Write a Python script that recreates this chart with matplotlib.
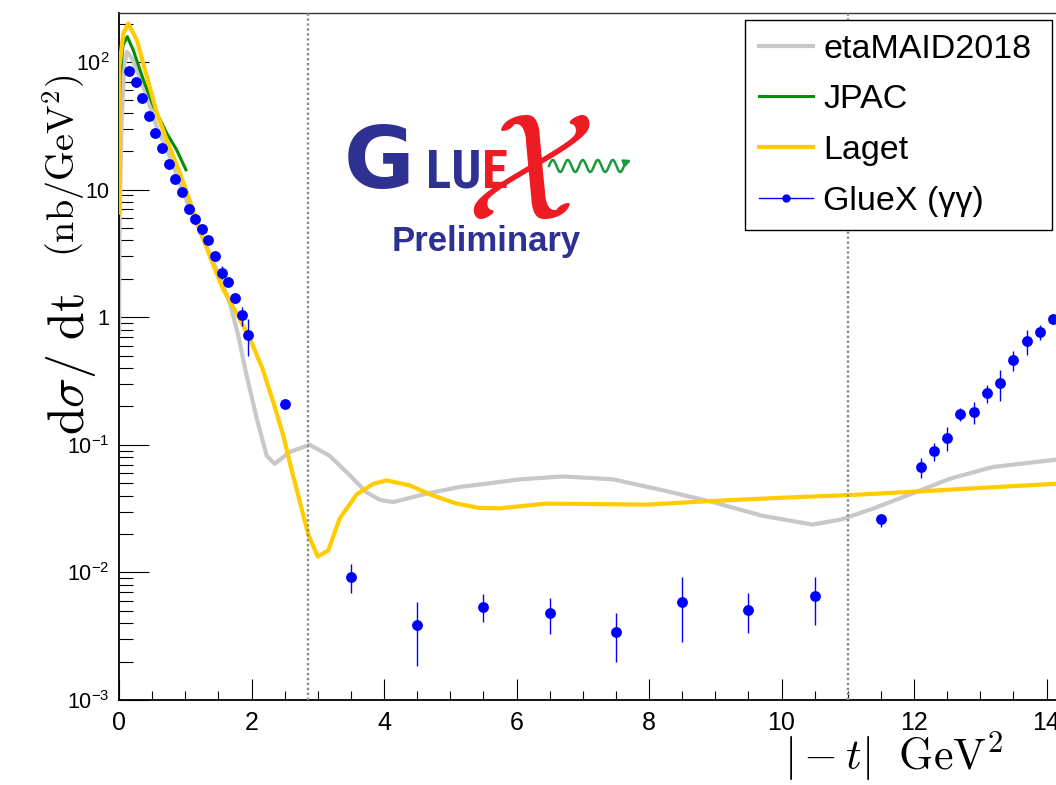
import numpy as np
import matplotlib
matplotlib.use("Agg")
import matplotlib.pyplot as plt
from matplotlib import font_manager
from matplotlib.lines import Line2D
from matplotlib.ticker import FixedLocator, LogLocator, MultipleLocator, NullFormatter

# GlueX eta -> gamma gamma differential cross section
t_data = [0.15, 0.25, 0.35, 0.45, 0.55, 0.65, 0.75, 0.85, 0.95, 1.05,
          1.15, 1.25, 1.35, 1.45, 1.55, 1.65, 1.75, 1.85, 1.95, 2.5,
          3.5, 4.5, 5.5, 6.5, 7.5, 8.5, 9.5, 10.5, 11.5,
          12.1, 12.3, 12.5, 12.7, 12.9, 13.1, 13.3, 13.5, 13.7, 13.9, 14.1]
xsec_data = [85, 70, 52.6, 37.9, 27.7, 21.2, 16.0, 12.0, 9.6, 7.1,
             5.9, 4.87, 4.0, 3.0, 2.23, 1.89, 1.42, 1.04, 0.73, 0.21,
             0.0092, 0.0039, 0.0054, 0.0048, 0.0034, 0.0059, 0.0051, 0.0065, 0.0264,
             0.0665, 0.090, 0.114, 0.174, 0.180, 0.256, 0.305, 0.458, 0.653, 0.768, 0.964]
xsec_low = [83, 68, 51, 36.8, 26.9, 20.5, 15.4, 11.5, 9.2, 6.8,
            5.6, 4.6, 3.75, 2.8, 2.0, 1.78, 1.30, 0.855, 0.50, 0.20,
            0.0069, 0.00186, 0.0041, 0.0033, 0.00198, 0.00284, 0.00336, 0.0039, 0.0228,
            0.055, 0.0753, 0.0897, 0.153, 0.145, 0.214, 0.222, 0.378, 0.502, 0.658, 0.90]
xsec_high = [87, 72, 54, 39, 28.5, 21.9, 16.6, 12.5, 10.0, 7.4,
             6.2, 5.15, 4.25, 3.2, 2.5, 2.0, 1.55, 1.21, 0.96, 0.22,
             0.01155, 0.0059, 0.0068, 0.0063, 0.0048, 0.0092, 0.0069, 0.0092, 0.0289,
             0.079, 0.104, 0.137, 0.194, 0.218, 0.294, 0.386, 0.54, 0.796, 0.87, 1.03]

# model predictions
maid_t = [0.0, 0.01, 0.04, 0.08, 0.12, 0.2, 0.37, 0.57, 0.77, 0.97,
          1.22, 1.40, 1.55, 1.68, 1.80, 1.92, 2.08, 2.23, 2.35, 2.58, 2.88,
          3.18, 3.48, 3.73, 3.94, 4.14, 4.64, 5.14, 5.6, 6.05, 6.7,
          7.46, 8.21, 8.96, 9.72, 10.47, 10.9, 11.38, 12.03, 12.53, 13.19, 14.14]
maid_xsec = [0.75, 6.5, 35, 95, 120, 106, 64, 31, 18, 9.4,
             4.7, 2.9, 1.9, 1.25, 0.72, 0.36, 0.16, 0.082, 0.071, 0.088, 0.100,
             0.082, 0.058, 0.0426, 0.037, 0.0356, 0.0414, 0.0467, 0.050, 0.0536, 0.0565,
             0.0536, 0.044, 0.0356, 0.0277, 0.0237, 0.026, 0.0316, 0.0426, 0.054, 0.067, 0.0764]

jpac_t = [0.0, 0.02, 0.06, 0.125, 0.215, 0.37, 0.52, 0.72, 0.87, 1.01]
jpac_xsec = [35, 80, 135, 158, 124, 72, 45, 27.7, 20.5, 14.3]

laget_t = [0.0, 0.005, 0.065, 0.14, 0.27, 0.42, 0.57, 0.72, 0.92, 1.17,
           1.37, 1.57, 1.77, 1.98, 2.17, 2.33, 2.48, 2.6, 2.73, 2.86,
           3.0, 3.16, 3.33, 3.59, 3.84, 4.04, 4.39, 4.74, 5.09, 5.44,
           5.75, 6.45, 7.96, 8.96, 9.97, 11.18, 14.14]
laget_xsec = [6.6, 92, 167, 200, 148, 77, 40, 24.5, 13.5, 5.8,
              3.0, 1.66, 1.09, 0.67, 0.39, 0.215, 0.118, 0.065, 0.0356, 0.0196,
              0.0133, 0.0149, 0.0264, 0.041, 0.0495, 0.0526, 0.048, 0.040, 0.0347, 0.032,
              0.0318, 0.0346, 0.034, 0.0363, 0.0384, 0.0407, 0.0495]

cut_lines = [2.86, 11.0]

ytick_values = [1e-3, 1e-2, 1e-1, 1, 10, 100]
ytick_labels = [r"$10^{-3}$", r"$10^{-2}$", r"$10^{-1}$", "1", "10", r"$10^{2}$"]

GREY = "#c8c8c8"
GREEN = "#008f00"
GOLD = "#ffcc00"
BLUE = "#0000ff"
LOGO_BLUE = "#2e3192"
LOGO_RED = "#ed1c24"
LOGO_GREEN = "#1a9a3a"

installed = {f.name for f in font_manager.fontManager.ttflist}
narrow = next((n for n in ["Liberation Sans Narrow", "DejaVu Sans Condensed",
                           "Roboto Condensed", "Open Sans Condensed"] if n in installed),
              "Liberation Sans")

plt.rcParams["font.family"] = ["Liberation Sans", "DejaVu Sans"]
plt.rcParams["mathtext.fontset"] = "custom"
plt.rcParams["mathtext.rm"] = "Liberation Sans"
plt.rcParams["mathtext.it"] = "Liberation Sans:italic"
plt.rcParams["axes.unicode_minus"] = True

W, H = 1056, 785
fig = plt.figure(figsize=(W / 100, H / 100), dpi=100)
ax = fig.add_axes([119 / W, 85 / H, 937 / W, 687 / H])

ax.plot(maid_t, maid_xsec, color=GREY, lw=3.0, label="etaMAID2018", zorder=2)
ax.plot(jpac_t, jpac_xsec, color=GREEN, lw=2.2, label="JPAC", zorder=3)
ax.plot(laget_t, laget_xsec, color=GOLD, lw=3.0, label="Laget", zorder=3)

y = np.array(xsec_data)
yerr = [y - np.array(xsec_low), np.array(xsec_high) - y]
ax.errorbar(t_data, y, yerr=yerr, fmt="o", color=BLUE, ms=7.8, mew=0,
            elinewidth=1.0, capsize=2.2, capthick=1.0, zorder=5)

for xc in cut_lines:
    ax.axvline(xc, color="#8a8a8a", lw=1.7, ls=(0, (1, 1.1)), zorder=6)

ax.set_yscale("log")
ax.set_xlim(0, 937 / 66.25)
ax.set_ylim(1e-3, 10 ** (2 + 49 / 127.6))

ax.yaxis.set_major_locator(FixedLocator(ytick_values))
ax.set_yticklabels(ytick_labels)
ax.yaxis.set_minor_locator(LogLocator(base=10, subs=range(2, 10)))
ax.yaxis.set_minor_formatter(NullFormatter())
ax.xaxis.set_major_locator(MultipleLocator(2))
ax.xaxis.set_minor_locator(MultipleLocator(0.5))

ax.tick_params(axis="both", which="both", direction="in", top=False, right=False, color="black")
ax.tick_params(axis="x", which="major", length=15, width=0.8, labelsize=18, pad=8)
ax.tick_params(axis="x", which="minor", length=6.5, width=0.8)
ax.tick_params(axis="y", which="major", length=21.5, width=0.8, labelsize=15.5, pad=7)
ax.tick_params(axis="y", which="minor", length=10, width=0.8)

ax.spines["right"].set_visible(False)
ax.spines["left"].set_linewidth(1.3)
ax.spines["bottom"].set_linewidth(1.3)
ax.spines["top"].set_linewidth(1.0)
ax.spines["top"].set_color("#333333")

handles, labels = ax.get_legend_handles_labels()
handles.append(Line2D([], [], color=BLUE, lw=1.0, marker="o", ms=6, mew=0))
labels.append("GlueX (γγ)")
leg = ax.legend(handles, labels, loc="upper left", mode="expand",
                bbox_to_anchor=(745 / W, 1 - 228 / H, 307 / W, 208 / H),
                bbox_transform=fig.transFigure,
                fontsize=24.5, frameon=True, fancybox=False, framealpha=1,
                edgecolor="black", borderaxespad=0, borderpad=0.4,
                labelspacing=0.58, handlelength=1.6, handletextpad=0.3)
leg.get_frame().set_linewidth(1.0)
leg.set_zorder(10)

# overlay in pixel units for the logo and axis titles
over = fig.add_axes([0, 0, 1, 1], zorder=5)
over.set_xlim(0, W)
over.set_ylim(H, 0)
over.axis("off")

over.text(344, 188, "G", color=LOGO_BLUE, fontsize=62, fontweight="bold",
          family="DejaVu Sans", ha="left", va="baseline")
over.text(426, 188, "LU", color=LOGO_BLUE, fontsize=38, fontweight="bold",
          family=narrow, ha="left", va="baseline")
over.text(482, 188, "E", color=LOGO_RED, fontsize=38, fontweight="bold",
          family=narrow, ha="left", va="baseline")
wx = np.linspace(549, 624, 300)
over.plot(wx, 166 - 6 * np.sin(2 * np.pi * (wx - 549) / 15), color=LOGO_GREEN, lw=1.8)
over.annotate("", xy=(634, 159), xytext=(624, 163),
              arrowprops=dict(arrowstyle="-|>", color=LOGO_GREEN, lw=1.8, mutation_scale=10))
over.text(528, 180, r"$\mathcal{X}$", color=LOGO_RED, fontsize=110,
          math_fontfamily="cm", ha="center", va="center")
over.text(486, 251, "Preliminary", color=LOGO_BLUE, fontsize=25, fontweight="bold",
          ha="center", va="baseline")

over.text(84, 364, r"$\mathrm{d}\sigma/\ \mathrm{dt}$", fontsize=36, math_fontfamily="cm",
          rotation=90, rotation_mode="anchor", ha="center", va="baseline")
over.text(76, 166, r"$(\mathrm{nb/GeV}^{2})$", fontsize=27.5, math_fontfamily="cm",
          rotation=90, rotation_mode="anchor", ha="center", va="baseline")
over.text(1003, 770, r"$|-t|\ \ \mathrm{GeV}^{2}$", fontsize=31.5, math_fontfamily="cm",
          ha="right", va="baseline")

fig.savefig("out.png", dpi=100)
